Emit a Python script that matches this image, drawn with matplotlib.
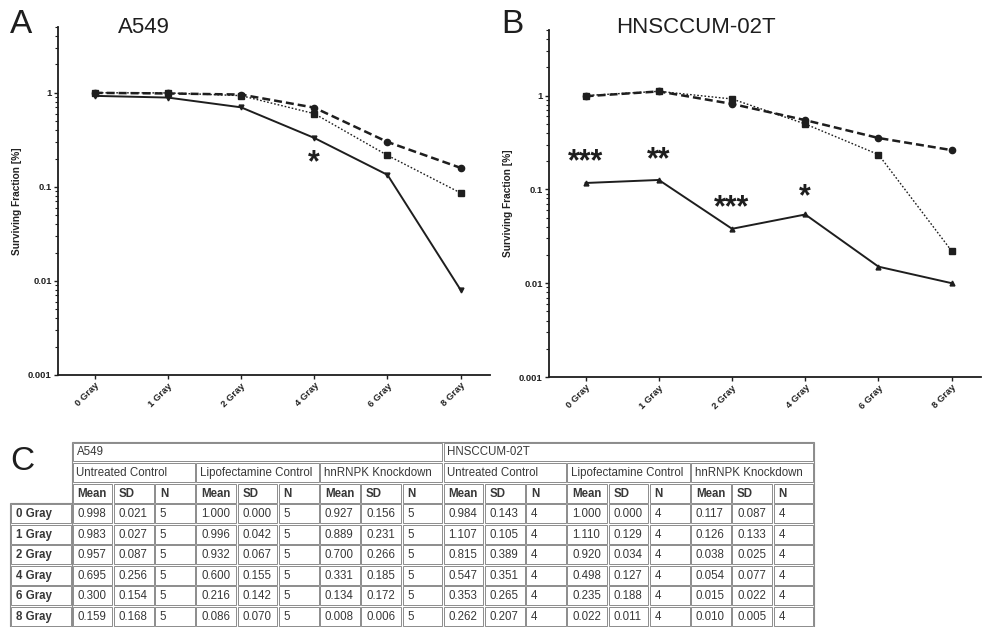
import matplotlib
matplotlib.use("Agg")
import matplotlib.pyplot as plt
from matplotlib.patches import Rectangle
import numpy as np

plt.rcParams['font.family'] = ['Liberation Sans', 'DejaVu Sans']

doses = ["0 Gray", "1 Gray", "2 Gray", "4 Gray", "6 Gray", "8 Gray"]

# A549
a_untreated_mean = [0.998, 0.983, 0.957, 0.695, 0.300, 0.159]
a_untreated_sd = [0.021, 0.027, 0.087, 0.256, 0.154, 0.168]
a_lipo_mean = [1.000, 0.996, 0.932, 0.600, 0.216, 0.086]
a_lipo_sd = [0.000, 0.042, 0.067, 0.155, 0.142, 0.070]
a_kd_mean = [0.927, 0.889, 0.700, 0.331, 0.134, 0.008]
a_kd_sd = [0.156, 0.231, 0.266, 0.185, 0.172, 0.006]
a_n = [5, 5, 5, 5, 5, 5]

# HNSCCUM-02T
b_untreated_mean = [0.984, 1.107, 0.815, 0.547, 0.353, 0.262]
b_untreated_sd = [0.143, 0.105, 0.389, 0.351, 0.265, 0.207]
b_lipo_mean = [1.000, 1.110, 0.920, 0.498, 0.235, 0.022]
b_lipo_sd = [0.000, 0.129, 0.034, 0.127, 0.188, 0.011]
b_kd_mean = [0.117, 0.126, 0.038, 0.054, 0.015, 0.010]
b_kd_sd = [0.087, 0.133, 0.025, 0.077, 0.022, 0.005]
b_n = [4, 4, 4, 4, 4, 4]

# significance marks (dose index, y position, text)
a_sig = [(3, 0.19, "*")]
b_sig = [(0, 0.21, "***"), (1, 0.22, "**"), (2, 0.068, "***"), (3, 0.088, "*")]

groups = ["Untreated Control", "Lipofectamine Control", "hnRNPK Knockdown"]
cell_lines = ["A549", "HNSCCUM-02T"]
stats = ["Mean", "SD", "N"]

W, H = 982, 627
fig = plt.figure(figsize=(W / 100, H / 100), dpi=100)

def px_axes(x0, x1, ytop, ybot):
    return fig.add_axes([x0 / W, 1 - ybot / H, (x1 - x0) / W, (ybot - ytop) / H])

ink = '#1e1e1e'

def panel(ax, unt, lipo, kd, kd_marker, sig):
    x = np.arange(len(doses))
    ax.plot(x, unt, ls=(0, (3.2, 1.6)), lw=1.8, color=ink, marker='o', ms=4.5, zorder=3)
    ax.plot(x, lipo, ls=(0, (1.2, 1.4)), lw=1.0, color=ink, marker='s', ms=5, zorder=3)
    ax.plot(x, kd, ls='-', lw=1.4, color=ink, marker=kd_marker, ms=3.5, zorder=3)
    ax.set_yscale('log')
    ax.set_ylim(0.001, 5)
    ax.set_xlim(-0.5, 5.4)
    ax.set_yticks([0.001, 0.01, 0.1, 1])
    ax.set_yticklabels(["0.001", "0.01", "0.1", "1"])
    ax.set_xticks(x)
    ax.set_xticklabels(doses, rotation=45, ha='right', rotation_mode='anchor')
    for lab in ax.get_xticklabels() + ax.get_yticklabels():
        lab.set_fontweight('bold')
        lab.set_fontsize(6.8)
        lab.set_color('#222222')
    ax.tick_params(axis='both', which='major', length=3, width=1, color=ink, pad=1.5)
    ax.tick_params(axis='y', which='minor', length=2, width=0.8, color=ink)
    ax.tick_params(axis='x', which='minor', length=0)
    ax.spines['top'].set_visible(False)
    ax.spines['right'].set_visible(False)
    ax.spines['left'].set_linewidth(1.3)
    ax.spines['bottom'].set_linewidth(1.3)
    ax.spines['left'].set_color(ink)
    ax.spines['bottom'].set_color(ink)
    ax.set_ylabel("Surviving Fraction [%]", fontsize=7.3, fontweight='bold', color='#222222', labelpad=4)
    for xi, yv, s in sig:
        ax.annotate(s, (xi, yv), xytext=(0, -2), textcoords='offset points',
                    ha='center', va='center', fontsize=22, fontweight='bold', color=ink)

axA = px_axes(58, 490, 27, 375)
panel(axA, a_untreated_mean, a_lipo_mean, a_kd_mean, 'v', a_sig)
axB = px_axes(549, 981, 30, 377)
panel(axB, b_untreated_mean, b_lipo_mean, b_kd_mean, '^', b_sig)

fig.text(10 / W, 1 - 33 / H, "A", fontsize=24, color=ink, ha='left', va='baseline')
fig.text(118 / W, 1 - 33 / H, "A549", fontsize=16, color=ink, ha='left', va='baseline')
fig.text(501 / W, 1 - 33 / H, "B", fontsize=24, color=ink, ha='left', va='baseline')
fig.text(616 / W, 1 - 33 / H, "HNSCCUM-02T", fontsize=16, color=ink, ha='left', va='baseline')
fig.text(10 / W, 1 - 470 / H, "C", fontsize=24, color=ink, ha='left', va='baseline')

# ---- table C ----
tab = fig.add_axes([0, 0, 1, 1])
tab.set_xlim(0, W)
tab.set_ylim(H, 0)
tab.axis('off')

lab_x0, lab_x1 = 10, 72
col_w = (814 - 72) / 18.0
row_top = 441.7
row_h = 20.55
edge = '#8c8c8c'
txtc = '#383838'
fs = 8.3

def cell(x0, x1, r, text, bold=False, pad=5.5):
    y0 = row_top + r * row_h
    tab.add_patch(Rectangle((x0 + 0.8, y0 + 0.8), x1 - x0 - 1.6, row_h - 1.6,
                            fill=False, ec=edge, lw=0.7))
    if text:
        tab.text(x0 + pad, y0 + row_h / 2 + 0.5, text, ha='left', va='center',
                 fontsize=fs, color=txtc, fontweight='bold' if bold else 'normal')

def colx(i):
    return lab_x1 + i * col_w

# outer frames
tab.add_patch(Rectangle((lab_x1, row_top), 18 * col_w, 9 * row_h, fill=False, ec=edge, lw=0.8))
tab.add_patch(Rectangle((lab_x0, row_top + 3 * row_h), lab_x1 - lab_x0, 6 * row_h,
                        fill=False, ec=edge, lw=0.8))

for ci, cl in enumerate(cell_lines):
    cell(colx(ci * 9), colx(ci * 9 + 9), 0, cl, pad=4.5)
    for gi, g in enumerate(groups):
        c0 = ci * 9 + gi * 3
        cell(colx(c0), colx(c0 + 3), 1, g, pad=4.5)
        for si, s in enumerate(stats):
            cell(colx(c0 + si), colx(c0 + si + 1), 2, s, bold=True)

table_data = [
    (a_untreated_mean, a_untreated_sd, a_n),
    (a_lipo_mean, a_lipo_sd, a_n),
    (a_kd_mean, a_kd_sd, a_n),
    (b_untreated_mean, b_untreated_sd, b_n),
    (b_lipo_mean, b_lipo_sd, b_n),
    (b_kd_mean, b_kd_sd, b_n),
]

for ri, d in enumerate(doses):
    r = 3 + ri
    cell(lab_x0, lab_x1, r, d, bold=True, pad=6)
    for gi, (m, s, n) in enumerate(table_data):
        c0 = gi * 3
        cell(colx(c0), colx(c0 + 1), r, f"{m[ri]:.3f}")
        cell(colx(c0 + 1), colx(c0 + 2), r, f"{s[ri]:.3f}")
        cell(colx(c0 + 2), colx(c0 + 3), r, f"{n[ri]}")

fig.savefig("out.png", dpi=100)
